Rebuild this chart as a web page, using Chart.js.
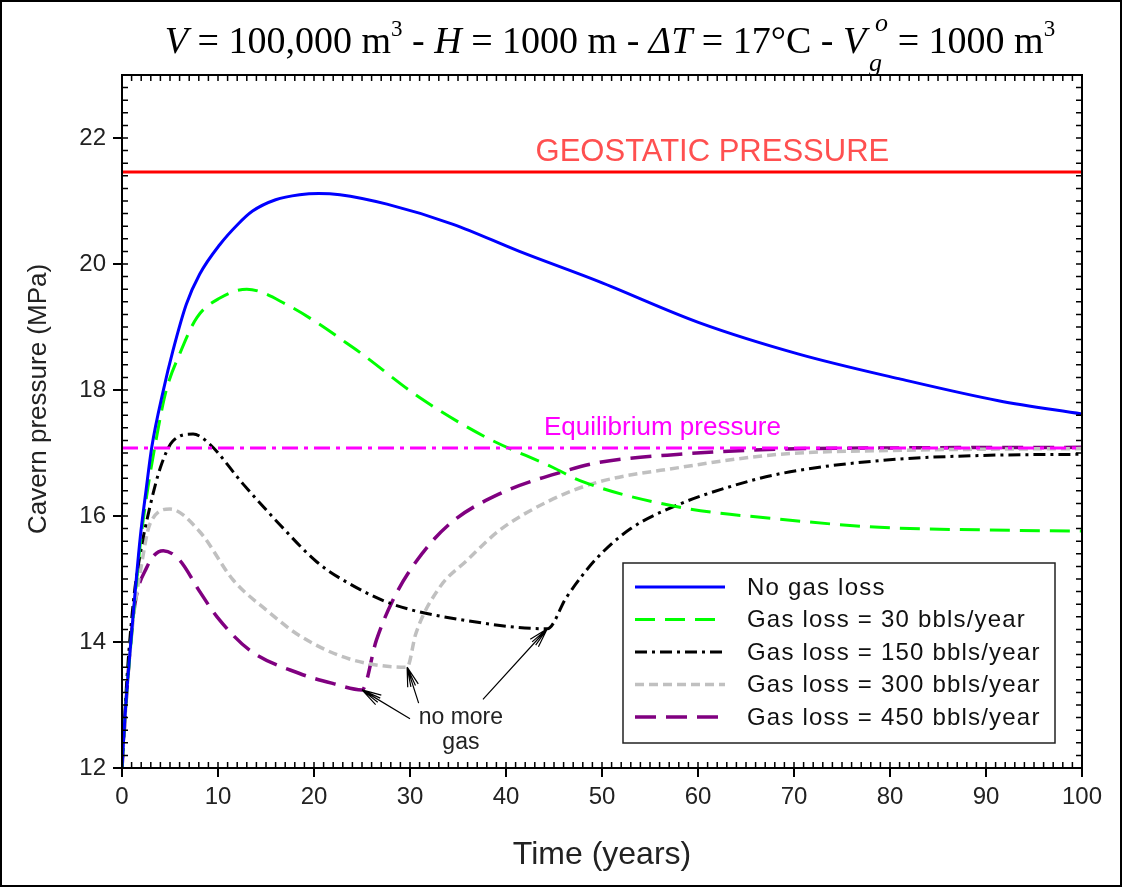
<!DOCTYPE html>
<html>
<head>
<meta charset="utf-8">
<script src="https://cdn.jsdelivr.net/npm/chart.js@4.4.0/dist/chart.umd.min.js"></script>
<style>
  body { margin: 0; background: #fff; }
  #wrap { position: relative; width: 1124px; height: 887px; }
  #chart { position: absolute; left: 0; top: 0; }
  #frame { position: absolute; left: 0; top: 0; width: 1118px; height: 883px; border: 2px solid #000; pointer-events: none; }
  #title { position: absolute; left: 0; width: 1220px; top: 18px; text-align: center;
           font-family: "Liberation Serif", "Times New Roman", serif; font-size: 38px; color: #000; white-space: nowrap; }
  #title sup { font-size: 23px; vertical-align: 17px; line-height: 0; }
  .vg { display: inline-block; position: relative; margin-right: 22px; }
  .vg .s { position: absolute; font-size: 26px; left: 26px; top: 30px; font-style: italic; }
  .vg .o { position: absolute; font-size: 26px; left: 32px; top: -10px; font-style: italic; }
</style>
</head>
<body>
<div id="wrap">
  <canvas id="chart" width="1124" height="887"></canvas>
  <div id="title"><i>V</i> = 100,000 m<sup>3</sup> - <i>H</i> = 1000 m - <i>ΔT</i> = 17°C - <span class="vg"><i>V</i><span class="s">g</span><span class="o">o</span></span> = 1000 m<sup>3</sup></div>
  <div id="frame"></div>
</div>
<script>
// values (time in years, pressure in MPa)
const noLossT = [0, 0.3, 1, 1.9, 2.5, 3.1, 4.3, 5.3, 6.7, 8.1, 10.2, 12, 13.6, 16, 18.5, 20.5, 22.7, 27.6, 34.5, 41.4, 49.7, 60.1, 70.5, 80.9, 91.3, 100];
const noLossP = [12, 12.8, 14.14, 15.66, 16.4, 17.09, 17.99, 18.62, 19.36, 19.84, 20.31, 20.62, 20.84, 21.02, 21.1, 21.12, 21.1, 20.95, 20.63, 20.2, 19.72, 19.07, 18.57, 18.18, 17.83, 17.62];

const loss30T = [0, 0.3, 1, 1.9, 2.5, 3.6, 4.6, 6.0, 7.8, 10.2, 13.0, 17.1, 24.1, 31.0, 37.9, 44.9, 47.7, 58.1, 68.5, 78.9, 89.3, 100];
const loss30P = [12, 12.8, 14.1, 15.55, 16.25, 17.25, 17.99, 18.57, 19.15, 19.46, 19.6, 19.36, 18.67, 17.88, 17.25, 16.77, 16.56, 16.14, 15.95, 15.82, 15.78, 15.76];

const loss150T = [0, 0.5, 1.2, 1.9, 2.9, 4.0, 5.3, 7.4, 9.0, 12.6, 16.4, 20.3, 23.4, 28.2, 35.9, 44.3, 46.3, 49.4, 53, 58.1, 63, 68.5, 78.9, 89.3, 100];
const loss150P = [12, 13.39, 14.66, 15.4, 16.14, 16.77, 17.19, 17.3, 17.16, 16.51, 15.87, 15.27, 14.95, 14.6, 14.34, 14.21, 14.71, 15.32, 15.8, 16.19, 16.45, 16.67, 16.88, 16.96, 16.98];

const loss300T = [0, 0.5, 1.2, 2.0, 2.9, 5.0, 8.1, 11.6, 15.1, 18.5, 23.7, 29.7, 30.6, 33.1, 35.9, 39.3, 44.5, 49.4, 58.1, 68.5, 80, 90, 100];
const loss300P = [12, 13.2, 14.4, 15.2, 15.87, 16.11, 15.75, 14.98, 14.5, 14.1, 13.73, 13.6, 14.13, 14.87, 15.29, 15.77, 16.24, 16.53, 16.77, 16.98, 17.04, 17.06, 17.07];

const loss450T = [0, 0.5, 1.2, 2.6, 4.3, 6.0, 8.1, 9.9, 13.3, 18.5, 22.0, 25.0, 26.5, 28.2, 30.7, 34.1, 39.3, 46.3, 49.7, 58.1, 68.5, 80, 100];
const loss450P = [12, 13.2, 14.45, 15.19, 15.45, 15.3, 14.8, 14.4, 13.87, 13.5, 13.34, 13.24, 14.03, 14.66, 15.29, 15.87, 16.35, 16.72, 16.85, 16.98, 17.06, 17.08, 17.09];

const geostatic = 21.46;
const equilibrium = 17.08;

// "no more gas" points: [t, p] of the arrow head, and arrow tail
const noGasHeads = [[25.0, 13.24], [29.7, 13.6], [44.3, 14.21]];
const noGasTails = [[30.0, 12.78], [30.9, 13.03], [37.6, 13.09]];

const legendLabels = ['No gas loss', 'Gas loss = 30 bbls/year', 'Gas loss = 150 bbls/year', 'Gas loss = 300 bbls/year', 'Gas loss = 450 bbls/year'];

const FONT = '"Liberation Sans", Arial, sans-serif';

function pts(ts, ps) { return ts.map((t, i) => ({x: t, y: ps[i]})); }

const styles = [
  {color: '#0000ff', width: 3, dash: []},
  {color: '#00ff00', width: 3, dash: [20, 10]},
  {color: '#000000', width: 3, dash: [12, 5, 3, 5]},
  {color: '#c0c0c0', width: 3.5, dash: [9, 5]},
  {color: '#800080', width: 3.5, dash: [21, 10]}
];

const series = [pts(noLossT, noLossP), pts(loss30T, loss30P), pts(loss150T, loss150P), pts(loss300T, loss300P), pts(loss450T, loss450P)];

const datasets = [
  {data: [{x: 0, y: geostatic}, {x: 100, y: geostatic}], borderColor: '#ff0000', borderWidth: 3},
  {data: [{x: 0, y: equilibrium}, {x: 100, y: equilibrium}], borderColor: '#ff00ff', borderWidth: 3, borderDash: [16, 6, 4, 6]}
];
series.forEach((d, i) => {
  datasets.push({data: d, borderColor: styles[i].color, borderWidth: styles[i].width, borderDash: styles[i].dash,
                 cubicInterpolationMode: 'monotone'});
});

const extras = {
  id: 'extras',
  afterDraw(chart) {
    const {ctx, chartArea: a, scales: {x, y}} = chart;
    ctx.save();
    // minor ticks, inward on all sides
    ctx.strokeStyle = '#000';
    ctx.lineWidth = 1.5;
    ctx.setLineDash([]);
    ctx.beginPath();
    for (let t = 0; t <= 100; t += 1) {
      const px = x.getPixelForValue(t);
      ctx.moveTo(px, a.bottom); ctx.lineTo(px, a.bottom - 6);
      ctx.moveTo(px, a.top); ctx.lineTo(px, a.top + 6);
    }
    for (let k = 0; k <= 55; k++) {
      const py = y.getPixelForValue(12 + k * 0.2);
      ctx.moveTo(a.left, py); ctx.lineTo(a.left + 6, py);
      ctx.moveTo(a.right, py); ctx.lineTo(a.right - 6, py);
    }
    ctx.stroke();
    // frame
    ctx.lineWidth = 2;
    ctx.strokeRect(a.left, a.top, a.right - a.left, a.bottom - a.top);

    // y axis title (drawn here to place it like the original)
    ctx.save();
    ctx.translate(39, 399);
    ctx.rotate(-Math.PI / 2);
    ctx.textAlign = 'center';
    ctx.textBaseline = 'middle';
    ctx.fillStyle = '#222';
    ctx.font = '26px ' + FONT;
    ctx.fillText('Cavern pressure (MPa)', 0, 0);
    ctx.restore();

    // text labels
    ctx.textAlign = 'center';
    ctx.textBaseline = 'middle';
    ctx.fillStyle = '#ff5050';
    ctx.font = '31px ' + FONT;
    ctx.fillText('GEOSTATIC PRESSURE', x.getPixelForValue(61.5), y.getPixelForValue(21.77));
    ctx.fillStyle = '#ff00ff';
    ctx.font = '26px ' + FONT;
    ctx.fillText('Equilibrium pressure', x.getPixelForValue(56.3), y.getPixelForValue(17.4));
    ctx.fillStyle = '#222';
    ctx.font = '23px ' + FONT;
    ctx.fillText('no more', x.getPixelForValue(35.3), y.getPixelForValue(12.8));
    ctx.fillText('gas', x.getPixelForValue(35.3), y.getPixelForValue(12.4));

    // arrows
    ctx.strokeStyle = '#000';
    ctx.lineWidth = 1.2;
    noGasHeads.forEach((h, i) => {
      const hx = x.getPixelForValue(h[0]), hy = y.getPixelForValue(h[1]);
      const tx = x.getPixelForValue(noGasTails[i][0]), ty = y.getPixelForValue(noGasTails[i][1]);
      const ang = Math.atan2(hy - ty, hx - tx);
      ctx.beginPath();
      ctx.moveTo(tx, ty); ctx.lineTo(hx, hy);
      [-0.28, -0.12, 0.12, 0.28].forEach(d => {
        ctx.moveTo(hx, hy);
        ctx.lineTo(hx - 20 * Math.cos(ang + d), hy - 20 * Math.sin(ang + d));
      });
      ctx.stroke();
    });

    // legend box
    const lx = 623, ly = 563, lw = 432, lh = 180;
    ctx.fillStyle = '#fff';
    ctx.fillRect(lx, ly, lw, lh);
    ctx.lineWidth = 1.5;
    ctx.strokeStyle = '#222';
    ctx.strokeRect(lx, ly, lw, lh);
    ctx.textAlign = 'left';
    ctx.font = '24px ' + FONT;
    ctx.letterSpacing = '1.2px';
    legendLabels.forEach((lab, i) => {
      const yy = ly + 24 + i * 32.5;
      ctx.strokeStyle = styles[i].color;
      ctx.lineWidth = styles[i].width;
      ctx.setLineDash(styles[i].dash);
      ctx.beginPath();
      ctx.moveTo(lx + 12, yy); ctx.lineTo(lx + 102, yy);
      ctx.stroke();
      ctx.setLineDash([]);
      ctx.fillStyle = '#111';
      ctx.fillText(lab, lx + 124, yy + 1);
    });
    ctx.restore();
  }
};

new Chart(document.getElementById('chart'), {
  type: 'line',
  data: {datasets},
  options: {
    responsive: false,
    animation: false,
    layout: {padding: {left: 0, right: 42, top: 75, bottom: 0}},
    elements: {point: {radius: 0}},
    plugins: {legend: {display: false}, tooltip: {enabled: false}},
    scales: {
      x: {
        type: 'linear', min: 0, max: 100,
        ticks: {stepSize: 10, color: '#222', padding: 6, font: {size: 24, family: FONT}},
        grid: {drawOnChartArea: false, tickLength: 9, color: '#000', lineWidth: 2},
        border: {color: '#000', width: 2},
        title: {display: true, text: 'Time (years)', color: '#222', padding: {top: 0, bottom: 13},
                font: {size: 32, family: FONT}},
        afterFit(s) { s.height = 119; }
      },
      y: {
        min: 12, max: 23,
        ticks: {stepSize: 2, includeBounds: false, color: '#222', padding: 7, font: {size: 24, family: FONT}},
        grid: {drawOnChartArea: false, tickLength: 9, color: '#000', lineWidth: 2},
        border: {color: '#000', width: 2},
        title: {display: false},
        afterFit(s) { s.width = 122; }
      }
    }
  },
  plugins: [extras]
});
</script>
</body>
</html>
